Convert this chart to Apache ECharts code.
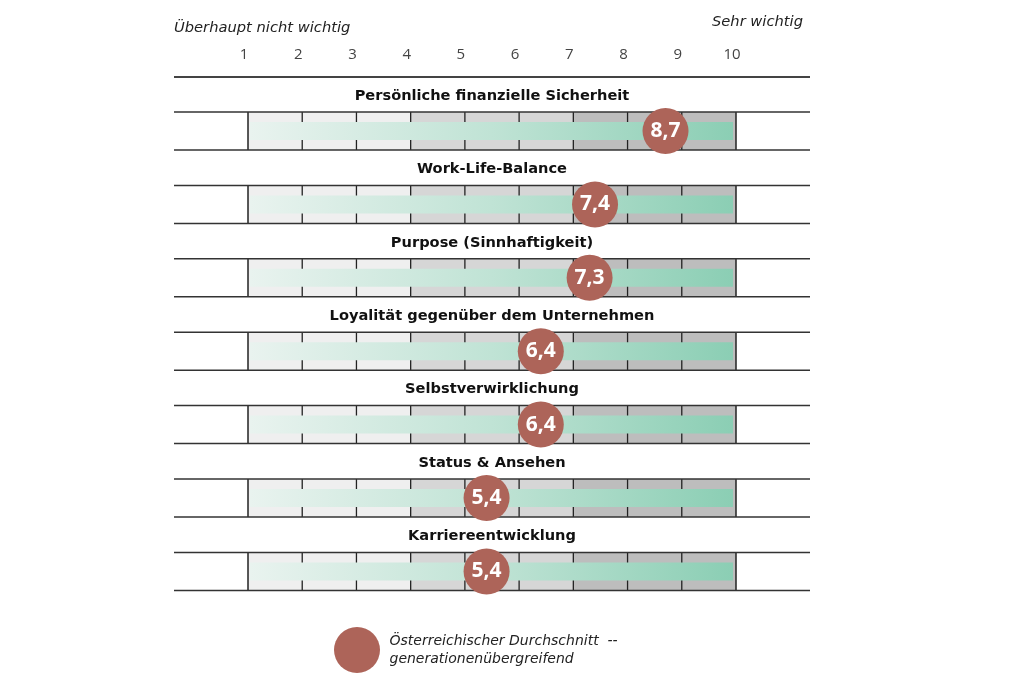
<!DOCTYPE html>
<html>
<head>
<meta charset="utf-8">
<script src="https://cdn.jsdelivr.net/npm/echarts@6/dist/echarts.min.js"></script>
<style>html,body{margin:0;padding:0;background:#fff;}#c{width:1024px;height:686px;}</style>
</head>
<body>
<div id="c"></div>
<script>
var categories = [
  'Persönliche finanzielle Sicherheit',
  'Work-Life-Balance',
  'Purpose (Sinnhaftigkeit)',
  'Loyalität gegenüber dem Unternehmen',
  'Selbstverwirklichung',
  'Status & Ansehen',
  'Karriereentwicklung'
];
var averageValues = [8.7, 7.4, 7.3, 6.4, 6.4, 5.4, 5.4];
var scaleTicks = [1, 2, 3, 4, 5, 6, 7, 8, 9, 10];
var zoneBounds = [[1, 4], [4, 7], [7, 10]];
var seriesName = 'Österreichischer Durchschnitt  --\ngenerationenübergreifend';
var leftLabel = 'Überhaupt nicht wichtig';
var rightLabel = 'Sehr wichtig';

var FONT = '"Open Sans", sans-serif';
var WIDE = '"DejaVu Sans", sans-serif';
var zoneColors = ['#efefef', '#d6d6d6', '#bdbdbd'];

var chart = echarts.init(document.getElementById('c'), null, {renderer: 'canvas'});

function renderRow(params, api) {
  var row = api.value(1);
  var pL = api.coord([scaleTicks[0], row]);
  var pR = api.coord([scaleTicks[scaleTicks.length - 1], row]);
  var xL = pL[0], xR = pR[0], yC = pL[1];
  var h = 19, ext = 74;
  var children = [];
  zoneBounds.forEach(function (z, i) {
    var a = api.coord([z[0], row])[0], b = api.coord([z[1], row])[0];
    children.push({type: 'rect', shape: {x: a, y: yC - h, width: b - a, height: 2 * h}, style: {fill: zoneColors[i]}});
  });
  scaleTicks.slice(1, -1).forEach(function (t) {
    var x = api.coord([t, row])[0];
    children.push({type: 'line', shape: {x1: x, y1: yC - h, x2: x, y2: yC + h}, style: {stroke: '#222', lineWidth: 1.3}});
  });
  children.push({type: 'rect', shape: {x: xL + 2, y: yC - 9, width: xR - xL - 5, height: 18},
    style: {fill: new echarts.graphic.LinearGradient(0, 0, 1, 0, [
      {offset: 0, color: '#e9f3ef'}, {offset: 0.5, color: '#c0e3d5'}, {offset: 1, color: '#8bceb4'}])}});
  [xL, xR].forEach(function (x) {
    children.push({type: 'line', shape: {x1: x, y1: yC - h, x2: x, y2: yC + h}, style: {stroke: '#222', lineWidth: 1.5}});
  });
  [yC - h, yC + h].forEach(function (y) {
    children.push({type: 'line', shape: {x1: xL - ext, y1: y, x2: xR + ext, y2: y}, style: {stroke: '#333', lineWidth: 1.5}});
  });
  children.push({type: 'text', x: (xL + xR) / 2, y: yC - 35,
    style: {text: categories[params.dataIndex], fill: '#111', font: 'bold 14.6px ' + WIDE, align: 'center', verticalAlign: 'middle'}});
  return {type: 'group', children: children};
}

var option = {
  backgroundColor: '#fff',
  animation: false,
  grid: {left: 248, right: 288, top: 94.3, height: 513.8},
  xAxis: {
    type: 'value', min: 1, max: 10, interval: 1, position: 'top',
    axisLine: {show: false}, axisTick: {show: false}, splitLine: {show: false},
    axisLabel: {margin: 32, color: '#444', fontSize: 15, fontFamily: FONT, padding: [0, 8, 0, 0]}
  },
  yAxis: {type: 'category', data: categories, inverse: true, show: false},
  legend: {
    left: 329, top: 622, orient: 'vertical', icon: 'circle', itemWidth: 47, itemHeight: 46,
    itemGap: 4, selectedMode: false,
    textStyle: {fontFamily: WIDE, fontStyle: 'italic', fontSize: 14, color: '#222', lineHeight: 18, padding: [8, 0, 0, 4]},
    data: [seriesName]
  },
  graphic: [
    {type: 'line', shape: {x1: 174, y1: 77, x2: 810, y2: 77}, style: {stroke: '#444', lineWidth: 2}},
    {type: 'text', left: 174, top: 21, style: {text: leftLabel, font: 'italic 14.7px ' + WIDE, fill: '#222'}},
    {type: 'text', right: 221, top: 15, style: {text: rightLabel, font: 'italic 14.7px ' + WIDE, fill: '#222'}}
  ],
  series: [
    {
      type: 'custom', clip: false, silent: true, z: 1,
      encode: {x: 0, y: 1},
      data: categories.map(function (c, i) { return [1, i]; }),
      renderItem: renderRow
    },
    {
      name: seriesName, type: 'scatter', z: 5, symbol: 'circle', symbolSize: 46,
      itemStyle: {color: '#ad6459', opacity: 1},
      label: {show: true, position: 'inside', color: '#fff', fontWeight: 'bold', fontSize: 21, fontFamily: FONT,
        formatter: function (p) { return p.value[0].toFixed(1).replace('.', ','); }},
      data: averageValues.map(function (v, i) { return [v, i]; })
    }
  ]
};
chart.setOption(option);
</script>
</body>
</html>
